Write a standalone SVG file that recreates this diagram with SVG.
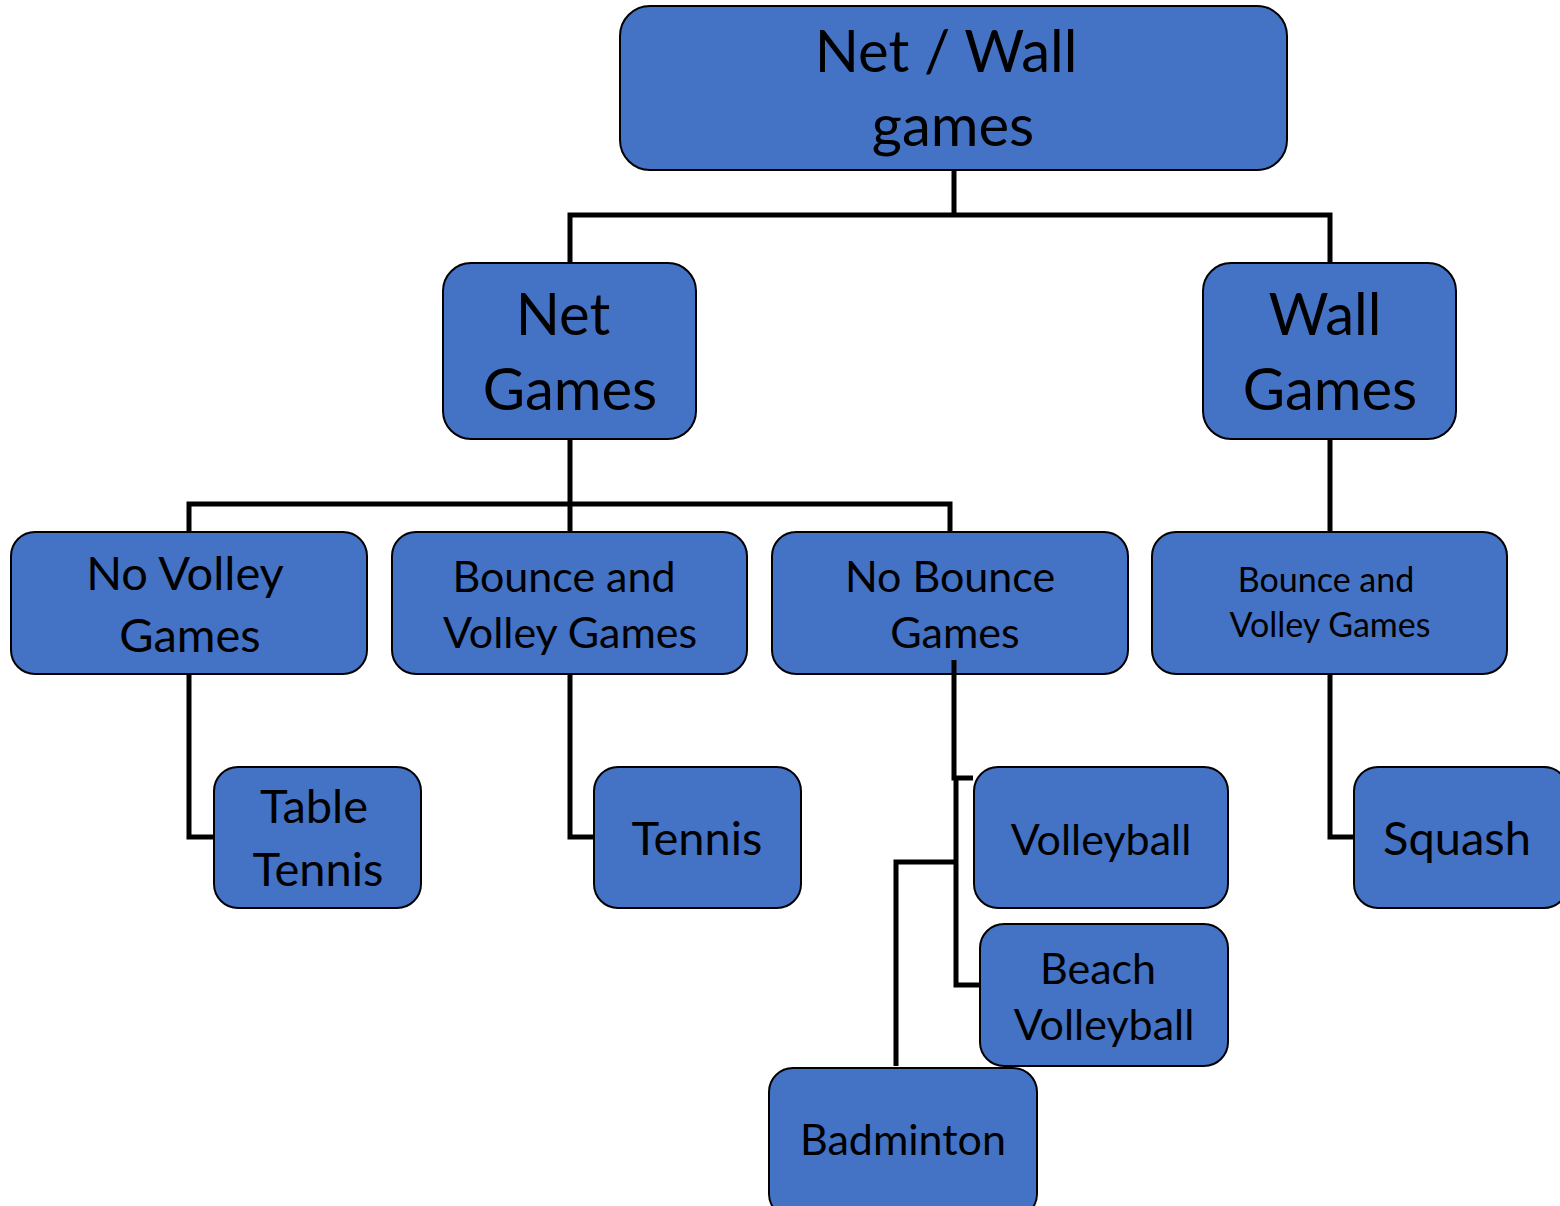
<svg xmlns="http://www.w3.org/2000/svg" width="1560" height="1206" viewBox="0 0 1560 1206">
<style>
.box{fill:#4472C4;stroke:#000;stroke-width:2}
.t{font-family:Lato,"Open Sans","Liberation Sans",sans-serif;fill:#000;text-anchor:middle}
.c{fill:none;stroke:#000;stroke-width:5}
</style>
<rect width="1560" height="1206" fill="#fff"/>
<g id="root"><rect class="box" x="620" y="6" width="667" height="164" rx="30"/>
<text class="t" x="946" y="72" font-size="58">Net / Wall</text>
<text class="t" x="953" y="146" font-size="58">games</text></g>
<g id="net"><rect class="box" x="443" y="263" width="253" height="176" rx="28"/>
<text class="t" x="563" y="335" font-size="58">Net</text>
<text class="t" x="570" y="410" font-size="58">Games</text></g>
<g id="wall"><rect class="box" x="1203" y="263" width="253" height="176" rx="28"/>
<text class="t" x="1325" y="335" font-size="58">Wall</text>
<text class="t" x="1330" y="410" font-size="58">Games</text></g>
<g id="novolley"><rect class="box" x="11" y="532" width="356" height="142" rx="24"/>
<text class="t" x="185" y="590" font-size="47">No Volley</text>
<text class="t" x="190" y="652" font-size="47">Games</text></g>
<g id="bouncevolley"><rect class="box" x="392" y="532" width="355" height="142" rx="24"/>
<text class="t" x="564" y="592" font-size="43">Bounce and</text>
<text class="t" x="570" y="648" font-size="43">Volley Games</text></g>
<g id="nobounce"><rect class="box" x="772" y="532" width="356" height="142" rx="24"/>
<text class="t" x="950" y="592" font-size="43">No Bounce</text>
<text class="t" x="955" y="648" font-size="43">Games</text></g>
<g id="wallbounce"><rect class="box" x="1152" y="532" width="355" height="142" rx="24"/>
<text class="t" x="1326" y="592" font-size="34">Bounce and</text>
<text class="t" x="1330" y="637" font-size="34">Volley Games</text></g>
<g id="tabletennis"><rect class="box" x="214" y="767" width="207" height="141" rx="24"/>
<text class="t" x="314" y="823" font-size="47">Table</text>
<text class="t" x="318" y="886" font-size="47">Tennis</text></g>
<g id="tennis"><rect class="box" x="594" y="767" width="207" height="141" rx="24"/>
<text class="t" x="697" y="855" font-size="47">Tennis</text></g>
<g id="volleyball"><rect class="box" x="974" y="767" width="254" height="141" rx="24"/>
<text class="t" x="1101" y="855" font-size="43">Volleyball</text></g>
<g id="beach"><rect class="box" x="980" y="924" width="248" height="142" rx="24"/>
<text class="t" x="1098" y="984" font-size="43">Beach</text>
<text class="t" x="1104" y="1040" font-size="43">Volleyball</text></g>
<g id="badminton"><rect class="box" x="769" y="1068" width="268" height="150" rx="24"/>
<text class="t" x="903" y="1155" font-size="43">Badminton</text></g>
<g id="squash"><rect class="box" x="1354" y="767" width="214" height="141" rx="24"/>
<text class="t" x="1457" y="855" font-size="47">Squash</text></g>
<g id="connectors">
<polyline class="c" points="954,171 954,215"/>
<polyline class="c" points="570,262 570,215 1330,215 1330,262"/>
<polyline class="c" points="570,440 570,531"/>
<polyline class="c" points="189,531 189,504 950,504 950,531"/>
<polyline class="c" points="1330,440 1330,531"/>
<polyline class="c" points="189,675 189,837 213,837"/>
<polyline class="c" points="570,675 570,837 593,837"/>
<polyline class="c" points="1330,675 1330,837 1353,837"/>
<polyline class="c" points="954,660 954,778 973,778"/>
<polyline class="c" points="956,778 956,985 979,985"/>
<polyline class="c" points="956,862 896,862 896,1066"/>
</g>
</svg>
